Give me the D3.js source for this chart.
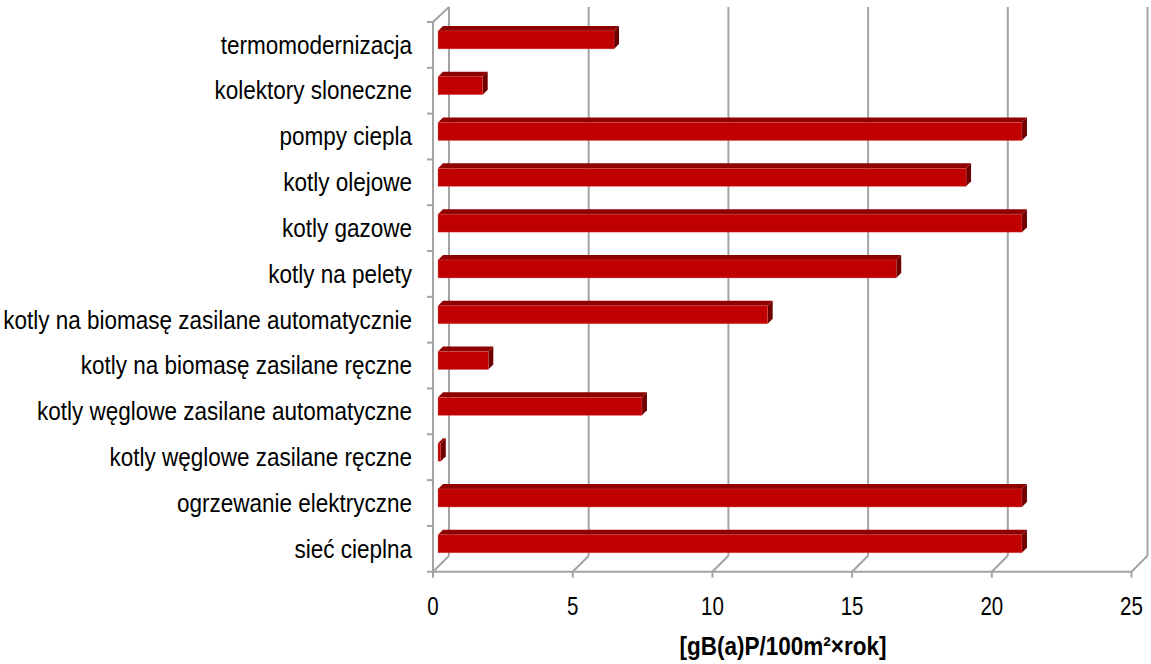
<!DOCTYPE html>
<html><head><meta charset="utf-8">
<script src="https://cdn.jsdelivr.net/npm/d3@7"></script>
<style>body{margin:0;background:#fff}svg{display:block}</style>
</head><body>
<svg id="c" width="1151" height="664"></svg>
<script>
const categories = ["termomodernizacja","kolektory sloneczne","pompy ciepla","kotly olejowe","kotly gazowe","kotly na pelety","kotly na biomasę zasilane automatycznie","kotly na biomasę zasilane ręczne","kotly węglowe zasilane automatyczne","kotly węglowe zasilane ręczne","ogrzewanie elektryczne","sieć cieplna"];
const values = [6.3, 1.6, 20.9, 18.9, 20.9, 16.4, 11.8, 1.8, 7.3, 0.1, 20.9, 20.9];
const xTicks = [0,5,10,15,20,25];
const axisTitle = "[gB(a)P/100m²×rok]";

const svg = d3.select("#c");
const x = d3.scaleLinear().domain([0,25]).range([433,1131.5]);
const y = d3.scaleBand().domain(categories).range([22,571.7]);
const D = 16, d1 = 5, d2 = 10, barH = 18;
const grid = "#a3a3a3";
const top0 = 22, base = 571.7;

// back wall gridlines
const g = svg.append("g");
xTicks.forEach(t => {
  g.append("line").attr("x1", x(t)+D).attr("x2", x(t)+D).attr("y1", top0-D+1).attr("y2", base-D)
    .attr("stroke", grid).attr("stroke-width", 2);
  g.append("line").attr("x1", x(t)+D).attr("x2", x(t)).attr("y1", base-D).attr("y2", base)
    .attr("stroke", grid).attr("stroke-width", 2);
  g.append("line").attr("x1", x(t)).attr("x2", x(t)).attr("y1", base).attr("y2", base+6)
    .attr("stroke", grid).attr("stroke-width", 2);
});
g.append("line").attr("x1", x(0)).attr("x2", x(25)).attr("y1", base).attr("y2", base).attr("stroke", grid).attr("stroke-width", 2);
g.append("line").attr("x1", x(0)).attr("x2", x(0)).attr("y1", top0).attr("y2", base).attr("stroke", grid).attr("stroke-width", 2);
g.append("line").attr("x1", x(0)).attr("x2", x(0)+D).attr("y1", top0).attr("y2", top0-D+1).attr("stroke", grid).attr("stroke-width", 2);
const bounds = categories.map(c => y(c)).concat([base]);
bounds.forEach(b => g.append("line").attr("x1", x(0)-6).attr("x2", x(0)).attr("y1", b).attr("y2", b).attr("stroke", grid).attr("stroke-width", 2));

// bars
const bars = svg.append("g");
categories.forEach((c, i) => {
  const v = values[i];
  const cy = y(c) + y.bandwidth()/2 - 5;
  const x0 = x(0) + d1, x1 = x(v) + d1;
  const yt = cy - barH/2, yb = cy + barH/2;
  const dd = d2 - d1;
  bars.append("path").attr("d", `M${x0},${yt}L${x0+dd},${yt-dd}L${x1+dd},${yt-dd}L${x1},${yt}Z`).attr("fill", "#8f0000");
  bars.append("path").attr("d", `M${x1},${yt}L${x1+dd},${yt-dd}L${x1+dd},${yb-dd}L${x1},${yb}Z`).attr("fill", "#6e0000");
  bars.append("rect").attr("x", x0).attr("y", yt).attr("width", Math.max(0, x1-x0)).attr("height", barH)
    .attr("fill", "#c00000").attr("stroke", "#e06060").attr("stroke-width", 0.6).attr("stroke-opacity", 0.6);
});

const font = "'Liberation Sans Narrow','Arial Narrow','Liberation Sans',Arial,sans-serif";
// category labels (condensed via horizontal scale)
svg.append("g").selectAll("text").data(categories).join("text")
  .attr("transform", d => `translate(412,${y(d) + y.bandwidth()/2}) scale(0.9,1)`)
  .attr("dy", "0.35em").attr("text-anchor", "end")
  .style("font-family", font).style("font-size", "25px").attr("fill", "#000")
  .text(d => d);

// x tick labels
svg.append("g").selectAll("text").data(xTicks).join("text")
  .attr("transform", d => `translate(${x(d)},615) scale(0.82,1)`).attr("text-anchor", "middle")
  .style("font-family", font).style("font-size", "25px").attr("fill", "#000")
  .text(d => d);

// axis title
svg.append("text").attr("transform", "translate(783,655) scale(0.9,1)").attr("text-anchor", "middle")
  .style("font-family", font).style("font-size", "25px").style("font-weight", "bold").attr("fill", "#000")
  .text(axisTitle);
</script>
</body></html>
